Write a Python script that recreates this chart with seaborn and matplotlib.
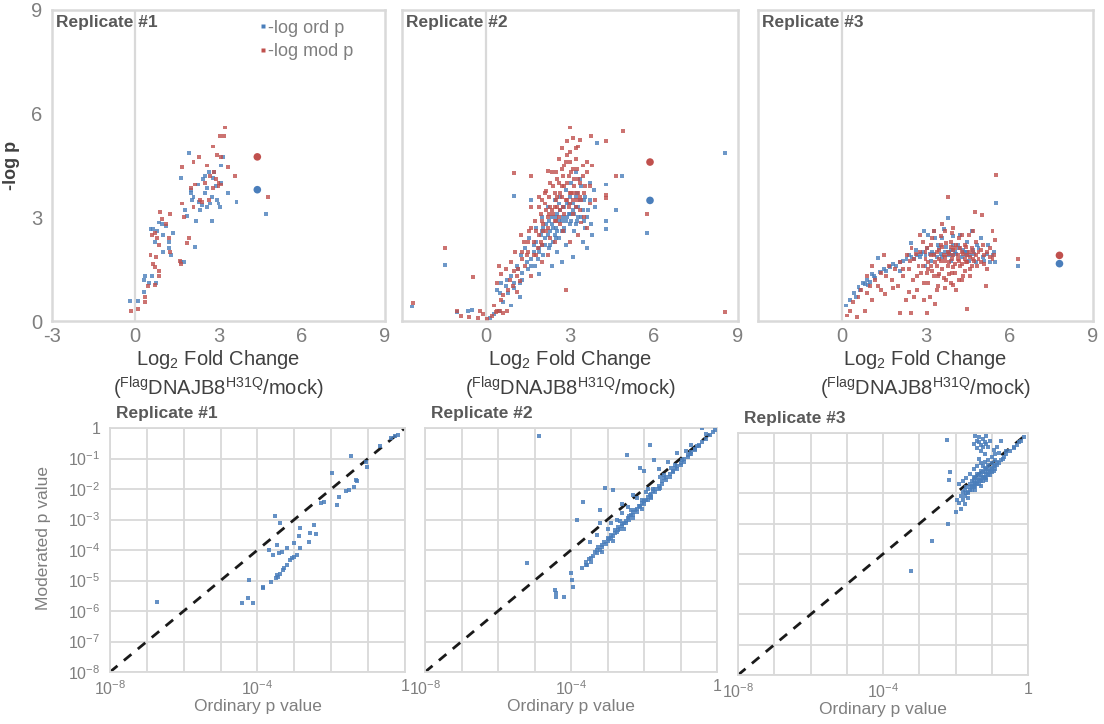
import numpy as np
import pandas as pd
import matplotlib
matplotlib.use("Agg")
import matplotlib.pyplot as plt
from matplotlib.lines import Line2D
from matplotlib.ticker import FixedLocator, NullLocator
import seaborn as sns

# ---------------- volcano-style panels: log2 fold change vs -log p ----------------
rep1_ord_fc = [-0.2, 0.1, 0.3, 0.35, 0.3, 0.5, 0.6, 0.75, 0.55, 0.65, 0.7, 0.8, 0.85, 0.95, 1.0, 1.1,
               1.2, 1.2, 1.3, 1.35, 1.0, 1.65, 1.75, 1.8, 1.85, 1.65, 1.95, 2.0, 2.05, 2.1, 2.15, 2.2,
               2.3, 2.35, 2.4, 2.45, 2.5, 2.6, 2.6, 2.7, 2.75, 2.75, 2.8, 2.9, 2.95, 3.0, 3.05, 3.1,
               3.1, 3.15, 3.35, 3.65, 4.7, 2.65, 2.85, 2.5, 2.25, 2.0]
rep1_ord_p = [0.58, 0.58, 0.85, 1.3, 1.2, 1.1, 1.3, 1.1, 2.65, 2.65, 2.3, 2.6, 2.85, 2.8, 2.5, 2.75,
              2.1, 2.3, 1.9, 2.55, 2.0, 1.7, 1.7, 3.2, 3.05, 4.15, 4.85, 3.8, 3.5, 3.6, 2.15, 2.9,
              3.45, 3.2, 3.35, 4.1, 4.2, 3.85, 3.3, 3.4, 3.6, 2.9, 4.15, 3.9, 3.5, 3.4, 3.3, 4.0,
              4.5, 4.75, 3.7, 3.45, 3.1, 4.3, 4.3, 3.7, 3.95, 3.7]
rep1_mod_fc = [-0.15, 0.1, 0.35, 0.35, 0.45, 0.55, 0.65, 0.7, 0.75, 0.7, 0.85, 0.85, 0.6, 0.7, 0.8, 0.9,
               0.95, 1.1, 1.25, 1.25, 1.2, 0.85, 1.6, 1.65, 1.7, 1.75, 1.7, 1.85, 1.95, 2.0, 2.1, 2.1,
               2.15, 2.3, 2.35, 2.5, 2.6, 2.65, 2.7, 2.8, 2.8, 2.9, 2.95, 3.0, 3.05, 3.1, 3.2, 3.25,
               3.0, 2.85, 3.6, 3.35, 4.8, 2.4, 3.1]
rep1_mod_p = [0.3, 0.35, 0.55, 0.7, 1.0, 1.9, 1.65, 1.55, 1.85, 1.05, 1.45, 1.3, 2.5, 2.55, 2.4, 3.15,
              2.95, 2.8, 3.1, 2.0, 2.4, 2.2, 1.75, 1.65, 3.4, 3.0, 4.45, 2.25, 2.4, 3.85, 4.6, 3.3,
              3.95, 4.75, 3.5, 4.0, 4.5, 3.5, 4.2, 5.05, 3.85, 4.1, 4.8, 4.0, 5.35, 4.75, 5.35, 5.6,
              3.9, 4.3, 4.2, 4.45, 3.6, 3.45, 3.95]

rep2_ord_fc = [-2.65, -1.45, -1.05, -0.65, -0.5, 0.3, 0.45, 0.6, 0.5, 0.4, 0.7, 0.75, 0.9, 0.55, 1.0,
               1.1, 1.2, 1.25, 1.3, 1.4, 1.5, 1.55, 1.6, 1.7, 1.75, 1.8, 1.9, 1.95, 2.0, 2.05, 2.1,
               2.15, 2.2, 2.25, 2.3, 2.35, 2.4, 2.45, 2.5, 2.55, 2.6, 2.65, 2.7, 2.75, 2.8, 2.85, 2.9,
               2.95, 3.0, 3.05, 3.1, 3.15, 3.2, 3.25, 3.3, 3.35, 3.4, 3.5, 3.55, 3.65, 3.7, 3.8, 3.85,
               3.2, 1.0, 1.6, 3.95, 4.3, 4.65, 4.3, 4.3, 4.85, 5.75, 8.55, 2.35, 2.7, 3.1, 1.9, 2.55,
               3.45, 0.15, 0.9, 1.2, 2.0, 2.85, 3.6,
               1.6, 1.7, 1.8, 1.9, 2.0, 2.1, 2.2, 2.25, 2.3, 2.4, 2.45, 2.5, 2.55, 2.6, 2.65, 2.7,
               2.75, 2.8, 2.85, 2.9, 2.95, 3.0, 3.05, 3.1, 3.15, 3.2, 3.25, 3.3, 3.35, 3.4, 3.45, 3.5,
               3.55, 3.6, 3.7, 3.75, 3.9, 1.3, 1.0, 0.8, 1.15, 1.45, 2.05, 2.5, 2.8, 3.0, 3.2, 2.35,
               2.6, 1.85]
rep2_ord_p = [0.42, 1.62, 0.25, 0.3, 0.32, 0.2, 0.3, 0.55, 0.8, 0.9, 1.0, 1.2, 1.3, 1.1, 0.95,
              1.6, 1.1, 1.9, 1.4, 2.1, 1.5, 2.4, 1.8, 2.2, 1.6, 2.7, 2.0, 2.5, 3.0, 1.9, 2.4,
              2.8, 3.3, 2.1, 2.6, 3.0, 2.3, 3.5, 2.7, 3.1, 2.4, 3.6, 2.9, 3.3, 2.6, 3.8, 3.0,
              3.4, 2.8, 4.0, 3.2, 2.6, 3.6, 2.9, 3.3, 4.1, 3.0, 3.5, 2.7, 3.2, 4.0, 2.5, 3.8,
              4.3, 3.63, 3.5, 5.15, 3.95, 3.2, 2.9, 2.65, 4.2, 2.55, 4.85, 1.6, 1.7, 1.85, 1.35, 2.0,
              2.3, 0.1, 0.45, 0.7, 2.2, 2.2, 2.1,
              1.6, 2.0, 2.3, 2.1, 2.6, 2.2, 2.5, 2.9, 2.2, 2.7, 2.5, 3.0, 2.6, 2.9, 3.2, 2.6,
              3.0, 3.3, 2.9, 3.4, 3.1, 3.6, 2.9, 3.4, 3.1, 3.3, 3.7, 3.0, 3.5, 3.9, 3.2, 2.9,
              3.6, 3.0, 3.5, 2.8, 3.3, 1.2, 1.1, 0.8, 1.5, 1.7, 2.7, 2.4, 2.7, 3.1, 2.8, 2.8,
              3.4, 1.8]
rep2_mod_fc = [-0.9, -0.6, -0.3, -0.2, -0.1, 0.05, 0.2, 0.35, 0.5, 0.6, 0.75, 0.3, 0.55, 0.4, 0.55,
               0.45, 0.7, 0.85, 0.9, 1.0, 1.05, 1.15, 1.2, 1.3, 1.35, 1.4, 1.5, 1.55, 1.6, 1.7, 1.75,
               1.8, 1.9, 1.95, 2.0, 2.05, 2.1, 2.15, 2.2, 2.25, 2.3, 2.35, 2.4, 2.45, 2.5, 2.55, 2.6,
               2.65, 2.7, 2.75, 2.8, 2.85, 2.9, 2.95, 3.0, 3.05, 3.1, 3.15, 3.2, 3.25, 3.3, 3.35, 3.45,
               3.5, 3.6, 3.7, 2.9, 2.7, 3.1, 3.3, 3.75, 4.3, 4.9, 3.35, 3.0, 4.65, 4.3, 4.3, 5.75,
               8.55, 2.85, 1.0, 1.6, 2.2, 2.15, -2.6, -1.45, -0.45, -1.05, 1.9, 2.3, 2.6, 3.4, 3.9,
               3.5, 3.8, 3.6, 2.0, 1.25, 0.8, 1.1, 1.6, 2.45, 3.0, 3.3, 2.75, 2.2,
               1.8, 1.9, 2.0, 2.1, 2.2, 2.3, 2.35, 2.4, 2.45, 2.5, 2.55, 2.6, 2.65, 2.7, 2.75, 2.8,
               2.85, 2.9, 2.95, 3.0, 3.05, 3.1, 3.15, 3.2, 3.25, 3.3, 3.35, 3.4, 3.45, 3.55, 3.6, 3.7,
               1.5, 1.6, 1.7, 1.3, 1.1, 0.95, 0.6, 0.4, 2.0, 2.5, 2.8, 3.0, 3.2, 2.9, 2.45, 2.65,
               1.95, 2.15, 3.1, 3.35, 2.7, 3.0, 3.15, 2.55, 2.25, 2.05, 1.85, 1.45]
rep2_mod_p = [0.15, 0.12, 0.1, 0.28, 0.2, 0.05, 0.15, 0.25, 0.28, 0.22, 0.3, 0.45, 0.6, 1.1, 1.35,
              1.6, 1.5, 1.2, 1.7, 1.45, 2.0, 1.5, 1.15, 1.8, 2.3, 1.6, 2.0, 2.6, 1.3, 2.3, 2.9,
              1.9, 2.5, 3.1, 2.2, 2.8, 3.4, 2.6, 3.0, 3.6, 2.4, 3.2, 3.9, 2.9, 3.5, 4.1, 3.0,
              3.7, 4.4, 3.3, 3.9, 4.6, 3.5, 4.2, 4.9, 3.7, 4.4, 3.9, 4.7, 3.5, 4.1, 3.2, 4.5,
              3.7, 4.3, 3.9, 5.2, 5.0, 5.3, 5.05, 5.35, 5.2, 5.5, 5.25, 5.6, 4.2, 3.55, 3.65, 3.1,
              0.26, 0.9, 4.27, 4.2, 4.35, 3.75, 0.52, 2.1, 1.28, 0.3, 3.6, 4.0, 4.7, 2.85, 3.5,
              3.0, 4.5, 2.7, 1.7, 2.5, 0.9, 0.85, 3.3, 2.3, 2.3, 2.5, 2.6, 1.9,
              2.6, 3.3, 2.9, 3.7, 2.7, 3.3, 4.3, 3.1, 3.7, 2.9, 3.3, 4.0, 3.2, 3.6, 4.2, 3.1,
              3.5, 4.0, 3.3, 3.7, 4.3, 3.5, 4.1, 3.3, 4.4, 3.7, 4.0, 3.5, 4.2, 3.9, 4.6, 3.4,
              2.3, 2.7, 1.9, 2.0, 1.3, 1.0, 0.75, 0.3, 3.5, 4.3, 4.5, 4.6, 5.0, 4.8, 3.3, 2.8,
              2.3, 3.2, 3.1, 3.6, 3.9, 3.4, 3.7, 3.6, 3.1, 2.6, 2.1, 1.9]

rep3_ord_fc = [0.15, 0.3, 0.45, 0.6, 0.75, 0.83, 0.9, 1.01, 1.15, 1.29, 1.37, 1.5, 1.6, 1.73, 1.85,
               1.95, 2.09, 2.2, 2.32, 2.48, 2.5, 2.6, 2.7, 2.8, 2.9, 3.0, 3.1, 3.15, 3.25, 3.3, 3.4,
               3.5, 3.55, 3.6, 3.7, 3.8, 3.81, 3.9, 4.0, 4.1, 4.2, 4.3, 4.4, 4.5, 4.6, 4.7, 4.8,
               4.9, 5.0, 5.1, 5.2, 5.3, 5.45, 5.5, 5.52, 6.32, 2.95, 3.65, 4.25, 4.65, 3.2, 3.9, 4.55,
               2.1, 3.0,
               3.3, 3.45, 3.6, 3.75, 3.85, 3.95, 4.05, 4.15, 4.35, 4.45, 4.75, 4.85, 5.05, 5.25, 5.4,
               2.85, 2.65, 2.4, 3.05, 3.35, 4.0, 4.5, 1.2, 1.1, 0.95, 0.65, 0.5]
rep3_ord_p = [0.45, 0.6, 0.8, 0.98, 1.1, 1.08, 1.2, 1.13, 1.3, 1.82, 1.42, 1.5, 1.45, 1.56, 1.65,
              1.6, 1.7, 1.75, 1.8, 2.27, 1.85, 1.8, 1.9, 1.85, 2.0, 1.9, 2.5, 1.95, 2.0, 2.6, 1.85,
              2.1, 1.95, 2.4, 2.0, 1.9, 2.99, 2.05, 2.2, 1.95, 2.1, 1.85, 2.0, 2.3, 1.9, 2.05, 1.7,
              2.1, 2.4, 1.75, 1.95, 1.7, 2.0, 1.7, 3.42, 1.59, 2.6, 2.65, 2.5, 2.6, 1.75, 1.75, 1.75,
              1.45, 1.6,
              1.95, 2.2, 1.85, 2.15, 2.0, 1.9, 2.0, 2.2, 2.05, 1.9, 1.95, 2.2, 1.85, 2.2, 1.9,
              1.95, 2.05, 1.9, 2.1, 2.4, 2.45, 2.0, 1.25, 1.35, 1.05, 0.9, 0.7]
rep3_mod_fc = [0.18, 0.3, 0.54, 0.83, 0.4, 0.6, 0.7, 0.9, 1.0, 1.1, 1.2, 1.3, 1.4, 1.55, 1.6,
               1.7, 1.8, 1.9, 2.0, 2.09, 2.1, 2.2, 2.3, 2.35, 2.4, 2.47, 2.5, 2.55, 2.6, 2.7, 2.75,
               2.8, 2.85, 2.9, 2.95, 3.0, 3.04, 3.05, 3.1, 3.15, 3.2, 3.25, 3.3, 3.34, 3.35, 3.4, 3.45,
               3.5, 3.55, 3.6, 3.65, 3.7, 3.75, 3.8, 3.81, 3.85, 3.9, 3.95, 4.0, 4.05, 4.1, 4.15, 4.2,
               4.25, 4.3, 4.35, 4.4, 4.45, 4.5, 4.5, 4.55, 4.6, 4.65, 4.7, 4.77, 4.8, 4.85, 4.9, 5.0,
               5.03, 5.05, 5.1, 5.18, 5.2, 5.3, 5.4, 5.5, 5.52, 6.32, 3.6, 3.3, 4.0, 2.8, 4.7, 3.9,
               3.1, 2.6, 4.3, 3.5, 4.0, 3.7, 4.4, 3.2, 5.4, 1.1, 1.5, 0.9,
               3.0, 3.1, 3.2, 3.3, 3.4, 3.5, 3.55, 3.6, 3.7, 3.75, 3.8, 3.85, 3.9, 3.95, 4.0, 4.05,
               4.1, 4.15, 4.2, 4.25, 4.3, 4.35, 4.4, 4.45, 4.5, 4.55, 4.6, 4.65, 4.7, 4.75, 4.8, 4.9,
               5.0, 5.1, 5.2, 5.3, 5.45, 3.25, 3.45, 3.65, 3.85, 4.05, 4.2, 2.7, 2.9, 3.05, 2.65, 2.45,
               2.2, 3.4, 3.7, 4.0, 2.95, 2.4, 1.85, 1.4, 4.6, 3.55, 4.3, 3.95]
rep3_mod_p = [0.16, 0.3, 0.12, 0.29, 0.55, 0.7, 0.9, 0.8, 1.0, 0.6, 1.2, 1.0, 1.4, 0.79, 1.3,
              1.6, 1.2, 1.5, 1.0, 0.23, 1.7, 1.3, 0.6, 1.9, 1.5, 0.23, 2.1, 1.2, 1.8, 0.9, 1.6,
              2.0, 1.4, 2.3, 1.1, 1.8, 0.23, 2.1, 1.5, 0.7, 1.9, 2.4, 1.3, 0.48, 1.7, 2.0, 1.0,
              1.8, 2.2, 1.5, 1.9, 2.6, 1.2, 2.0, 3.59, 1.7, 2.3, 1.4, 1.9, 2.1, 0.9, 1.8, 2.4,
              1.6, 2.0, 1.3, 2.2, 1.7, 0.36, 1.9, 2.5, 1.5, 2.1, 1.8, 3.16, 2.3, 1.6, 2.0, 1.7,
              3.06, 2.2, 1.9, 1.0, 1.5, 2.1, 1.8, 2.35, 4.22, 1.8, 2.8, 2.6, 2.7, 2.5, 2.6, 1.1,
              1.1, 0.7, 1.2, 1.35, 1.55, 1.75, 1.45, 1.6, 2.6, 1.6, 1.9, 1.3,
              2.0, 1.7, 2.2, 1.9, 1.6, 2.05, 1.75, 2.15, 1.85, 2.25, 1.6, 1.95, 2.15, 1.8, 2.05, 1.65,
              2.2, 1.9, 1.75, 2.1, 1.65, 1.95, 1.8, 2.15, 1.7, 2.0, 1.85, 1.6, 2.0, 1.75, 1.9, 1.8,
              2.05, 1.65, 2.0, 1.85, 1.9, 1.45, 1.3, 1.25, 1.35, 1.4, 1.2, 1.3, 1.6, 1.4, 1.95, 1.75,
              1.5, 0.9, 0.95, 1.05, 0.6, 0.85, 0.95, 0.9, 1.3, 2.45, 2.5, 2.55]

# highlighted protein in each replicate (larger markers)
hl_fc = [4.4, 5.86, 7.8]
hl_ord_p = [3.8, 3.49, 1.66]
hl_mod_p = [4.75, 4.6, 1.9]

replicates = ["Replicate #1", "Replicate #2", "Replicate #3"]
series_names = ["-log ord p", "-log mod p"]
fc_ticks = [-3, 0, 3, 6, 9]
p_ticks = [0, 3, 6, 9]

# ---------------- ordinary vs moderated p values (log10) ----------------
cmp1_ord = [-6.72, -4.43, -4.25, -4.13, -4.22, -3.86, -3.84, -3.64, -3.5, -3.48, -3.45, -3.39, -3.31,
            -3.27, -3.2, -3.11, -3.06, -3.02, -2.93, -2.84, -2.61, -2.58, -2.47, -2.42, -2.84, -2.86,
            -3.02, -3.2, -3.34, -3.57, -3.7, -3.48, -3.42, -3.52, -3.38, -2.29, -2.2, -1.97, -1.8,
            -1.83, -1.6, -1.51, -1.39, -1.33, -1.3, -1.46, -1.05, -1.02, -0.69, -0.37, -0.28, -0.18]
cmp1_mod = [-5.72, -5.75, -5.56, -5.75, -4.99, -5.21, -5.25, -5.06, -4.93, -4.82, -4.88, -4.77, -4.66,
            -4.6, -4.49, -4.33, -4.27, -4.22, -4.16, -3.95, -3.73, -3.45, -3.18, -3.48, -3.29, -3.55,
            -3.78, -3.95, -4.05, -4.16, -4.0, -3.84, -4.1, -2.9, -3.12, -2.47, -2.41, -1.48, -2.25,
            -2.52, -2.08, -2.03, -1.92, -1.7, -1.73, -0.93, -1.1, -1.28, -0.6, -0.33, -0.27, -0.22]

cmp2_ord = [-4.89, -5.21, -4.44, -4.42, -4.18, -4.4, -3.98, -3.95, -4.0, -3.68, -3.84, -3.48, -3.06,
            -2.84, -3.2, -3.2, -2.47, -1.83, -1.74, -1.1, -0.41, -2.1, -2.0, -2.3, -2.6,
            -3.7, -3.6, -3.55, -3.5, -3.4, -3.35, -3.3, -3.25, -3.2, -3.15, -3.1, -3.05, -3.0, -2.95,
            -2.9, -2.85, -2.8, -2.75, -2.7, -2.65, -2.6, -2.55, -2.5, -2.45, -2.4, -2.35, -2.3, -2.25,
            -2.2, -2.15, -2.1, -2.05, -2.0, -1.95, -1.9, -1.85, -1.8, -1.75, -1.7, -1.6, -1.5, -1.4,
            -1.3, -1.2, -1.1, -1.0, -0.9, -0.8, -0.7, -0.6, -0.5, -0.4, -0.3, -0.2, -0.1, -0.05,
            -3.3, -2.9, -2.6, -2.2, -1.9, -1.55, -1.25, -1.6, -1.35, -0.85, -0.7, -0.3, -3.45, -3.15,
            -2.85, -2.55, -2.3, -2.05, -1.8, -1.55, -2.45, -2.75, -3.0, -1.95, -1.45, -1.15, -0.75, -0.55,
            -3.6, -3.45, -3.3, -3.15, -3.0, -2.9, -2.8, -2.7, -2.6, -2.5, -2.4, -2.3, -2.2, -2.1,
            -2.0, -1.9, -1.8, -1.7, -1.6, -1.5, -1.4, -1.3, -1.2, -1.1, -1.0, -0.9, -0.8, -0.7,
            -0.6, -0.5, -2.65, -2.35, -2.05, -1.75, -1.45, -1.15, -0.95]
cmp2_mod = [-0.27, -4.41, -5.32, -5.4, -5.53, -5.55, -4.99, -5.21, -4.75, -2.41, -3.01, -3.73, -1.97,
            -2.03, -2.68, -3.12, -0.88, -0.55, -1.04, -0.82, 0.0, -1.32, -1.4, -2.2, -2.5,
            -4.6, -4.4, -4.5, -4.3, -4.2, -4.05, -4.1, -3.9, -4.0, -3.85, -3.75, -3.8, -3.6, -3.65,
            -3.5, -3.55, -3.35, -3.4, -3.25, -3.3, -3.15, -3.1, -3.05, -2.95, -2.9, -2.85, -2.75, -2.7,
            -2.65, -2.55, -2.55, -2.45, -2.4, -2.35, -2.25, -2.2, -2.15, -2.05, -2.0, -1.9, -1.75, -1.6,
            -1.5, -1.4, -1.25, -1.15, -1.0, -0.9, -0.8, -0.7, -0.55, -0.45, -0.35, -0.22, -0.12, -0.05,
            -3.5, -3.1, -2.8, -2.3, -2.0, -1.6, -1.3, -1.35, -1.1, -0.75, -0.55, -0.2, -4.4, -4.05,
            -3.7, -3.3, -2.95, -2.65, -2.3, -1.95, -2.6, -3.0, -3.3, -2.1, -1.55, -1.2, -0.85, -0.6,
            -4.5, -4.25, -4.0, -3.9, -3.7, -3.6, -3.45, -3.35, -3.2, -3.1, -3.0, -2.85, -2.75, -2.6,
            -2.5, -2.35, -2.25, -2.1, -2.0, -1.85, -1.7, -1.6, -1.45, -1.35, -1.2, -1.1, -0.95, -0.85,
            -0.72, -0.6, -3.05, -2.7, -2.35, -2.0, -1.65, -1.3, -1.05]

cmp3_ord = [-2.24, -3.24, -2.66, -2.2, -2.17, -2.14, -2.0, -1.95,
            -1.45, -1.4, -1.35, -1.3, -1.25, -1.2, -1.15, -1.1, -1.05, -1.3, -1.4, -1.2, -1.5, -0.75,
            -0.95, -0.85,
            -1.9, -1.85, -1.8, -1.75, -1.7, -1.7, -1.65, -1.6, -1.6, -1.55, -1.55, -1.5, -1.5, -1.45,
            -1.45, -1.4, -1.4, -1.35, -1.35, -1.3, -1.3, -1.25, -1.25, -1.2, -1.2, -1.15, -1.15, -1.1,
            -1.1, -1.05, -1.0, -1.0, -0.95, -0.9, -0.9, -0.85, -0.8, -0.75, -0.7, -0.65, -0.6, -0.5,
            -0.4, -0.3, -0.2, -0.1, -1.5, -1.4, -1.3, -1.6, -1.7, -1.8, -1.2, -1.1, -1.0, -0.9, -0.8,
            -1.85, -1.75, -1.65, -1.9, -1.35, -1.25, -1.45, -1.3, -1.15,
            -1.6, -1.5, -1.45, -1.4, -1.35, -1.3, -1.25, -1.2, -1.15, -1.1, -1.05, -1.0, -0.95, -1.55,
            -1.65, -1.5, -1.4, -1.3, -1.2, -1.1, -1.0, -0.9, -0.85, -1.75, -1.8, -1.25, -1.15, -1.35,
            -0.6, -0.4, -0.25]
cmp3_mod = [-0.22, -4.56, -3.56, -3.0, -1.56, -1.28, -2.6, -2.2,
            -0.1, -0.25, -0.15, -0.4, -0.2, -0.3, -0.1, -0.45, -0.25, -0.6, -0.5, -0.7, -0.35, -0.28,
            -0.55, -0.45,
            -2.3, -2.1, -2.2, -1.9, -2.0, -1.8, -1.95, -1.7, -1.9, -1.75, -1.6, -1.8, -1.55, -1.65,
            -1.5, -1.7, -1.45, -1.55, -1.35, -1.6, -1.4, -1.45, -1.3, -1.5, -1.3, -1.35, -1.2, -1.4,
            -1.2, -1.25, -1.15, -1.3, -1.1, -1.05, -1.2, -0.95, -1.0, -0.9, -0.85, -0.8, -0.7, -0.6,
            -0.5, -0.4, -0.25, -0.12, -1.2, -1.1, -1.0, -1.35, -1.5, -1.6, -0.95, -0.9, -0.8, -0.7, -0.65,
            -2.5, -2.35, -2.15, -1.7, -0.85, -1.1, -1.9, -1.75, -1.55,
            -1.8, -1.7, -1.75, -1.6, -1.7, -1.5, -1.6, -1.45, -1.5, -1.3, -1.4, -1.2, -1.25, -1.9,
            -2.0, -1.45, -1.35, -1.25, -1.15, -1.05, -1.0, -0.9, -1.05, -2.1, -1.95, -0.45, -0.35, -0.3,
            -0.6, -0.45, -0.3]

diag = [1e-8, 1.0]
decades = [1e-8, 1e-7, 1e-6, 1e-5, 1e-4, 1e-3, 1e-2, 1e-1, 1.0]
y_dec_labels = ["$10^{-8}$", "$10^{-7}$", "$10^{-6}$", "$10^{-5}$", "$10^{-4}$",
                "$10^{-3}$", "$10^{-2}$", "$10^{-1}$", "1"]
x_dec_labels = ["$10^{-8}$", "", "", "", "$10^{-4}$", "", "", "", "1"]

# ---------------- style ----------------
sns.set_theme(style="white")
plt.rcParams["font.family"] = ["Liberation Sans", "DejaVu Sans"]
plt.rcParams["mathtext.default"] = "regular"

BLUE = "#4a7ebb"
RED = "#c0504d"
FRAME = "#d9d9d9"
TICK_C = "#7f7f7f"
TITLE_C = "#595959"

fig = plt.figure(figsize=(11.04, 7.24), dpi=100)

top_pos = [[0.0471, 0.5566, 0.3016, 0.4296],
           [0.3641, 0.5566, 0.3043, 0.4296],
           [0.6866, 0.5566, 0.3034, 0.4296]]
bot_pos = [[0.0996, 0.0718, 0.2672, 0.3370],
           [0.3850, 0.0718, 0.2645, 0.3370],
           [0.6685, 0.0677, 0.2627, 0.3343]]

volcano = [
    (rep1_ord_fc, rep1_ord_p, rep1_mod_fc, rep1_mod_p),
    (rep2_ord_fc, rep2_ord_p, rep2_mod_fc, rep2_mod_p),
    (rep3_ord_fc, rep3_ord_p, rep3_mod_fc, rep3_mod_p),
]

for i, (ofc, op, mfc, mp) in enumerate(volcano):
    ax = fig.add_axes(top_pos[i])
    df = pd.concat([
        pd.DataFrame({"fc": ofc, "p": op, "series": series_names[0]}),
        pd.DataFrame({"fc": mfc, "p": mp, "series": series_names[1]}),
    ], ignore_index=True)
    ax.axvline(0, color=FRAME, lw=1.6, zorder=0)
    sns.scatterplot(data=df, x="fc", y="p", hue="series",
                    palette={series_names[0]: BLUE, series_names[1]: RED},
                    marker="s", s=8, linewidth=0, alpha=0.8, legend=False, ax=ax)
    hl = pd.DataFrame({"fc": [hl_fc[i], hl_fc[i]], "p": [hl_ord_p[i], hl_mod_p[i]],
                       "series": series_names})
    sns.scatterplot(data=hl, x="fc", y="p", hue="series",
                    palette={series_names[0]: BLUE, series_names[1]: RED},
                    marker="o", s=30, linewidth=0, legend=False, ax=ax)
    ax.set_xlim(-3, 9)
    ax.set_ylim(0, 9)
    ax.set_xticks(fc_ticks)
    ax.set_yticks(p_ticks)
    if i == 0:
        ax.set_xticklabels([str(t) for t in fc_ticks])
        ax.set_yticklabels([str(t) for t in p_ticks])
        ax.set_ylabel("-log p", fontsize=13, fontweight="bold", color="#404040")
        ax.yaxis.set_label_coords(-0.095, 0.5)
    else:
        ax.set_xticklabels([""] + [str(t) for t in fc_ticks[1:]])
        ax.set_yticklabels([])
        ax.set_ylabel("")
    ax.set_xlabel("Log$_2$ Fold Change\n($^{Flag}$DNAJB8$^{H31Q}$/mock)",
                  fontsize=14.5, color="#404040", linespacing=1.15, labelpad=2)
    ax.tick_params(axis="x", length=0, labelsize=14.5, labelcolor=TICK_C, pad=4)
    ax.tick_params(axis="y", length=0, labelsize=14.5, labelcolor=TICK_C, pad=7)
    for sp in ax.spines.values():
        sp.set_color(FRAME)
        sp.set_linewidth(1.8)
    ax.text(0.012, 0.985, replicates[i], transform=ax.transAxes, ha="left", va="top",
            fontsize=12.5, fontweight="bold", color=TITLE_C)
    if i == 0:
        handles = [Line2D([], [], ls="none", marker="s", ms=2.6, mfc=BLUE, mec="none"),
                   Line2D([], [], ls="none", marker="s", ms=2.6, mfc=RED, mec="none")]
        ax.legend(handles, series_names, loc="upper left", bbox_to_anchor=(0.585, 1.01),
                  frameon=False, fontsize=13, handlelength=0.4, handletextpad=0.1,
                  labelspacing=0.35, borderpad=0.2, labelcolor=TICK_C)

comparisons = [(cmp1_ord, cmp1_mod), (cmp2_ord, cmp2_mod), (cmp3_ord, cmp3_mod)]

for i, (lo, lm) in enumerate(comparisons):
    ax = fig.add_axes(bot_pos[i])
    ax.set_xscale("log")
    ax.set_yscale("log")
    ax.set_xlim(1e-8, 1)
    ax.set_ylim(1e-8, 1)
    ax.xaxis.set_major_locator(FixedLocator(decades))
    ax.yaxis.set_major_locator(FixedLocator(decades))
    ax.xaxis.set_minor_locator(NullLocator())
    ax.yaxis.set_minor_locator(NullLocator())
    ax.set_xticklabels(x_dec_labels)
    ax.grid(True, color=FRAME, lw=1.3, zorder=0)
    ax.set_axisbelow(True)
    df = pd.DataFrame({"ordinary": np.power(10.0, lo), "moderated": np.power(10.0, lm)})
    sns.lineplot(x=diag, y=diag, color="#1a1a1a", lw=2.0, dashes=False, ax=ax,
                 linestyle=(0, (3.5, 3)), zorder=2)
    sns.scatterplot(data=df, x="ordinary", y="moderated", color=BLUE, marker="s",
                    s=6, linewidth=0, alpha=0.85, ax=ax, zorder=3)
    if i == 0:
        ax.set_yticklabels(y_dec_labels)
        ax.set_ylabel("Moderated p value", fontsize=12.5, color=TICK_C)
        ax.yaxis.set_label_coords(-0.2, 0.55)
    else:
        ax.set_yticklabels([])
        ax.set_ylabel("")
    ax.set_xlabel("Ordinary p value", fontsize=12.5, color=TICK_C, labelpad=1)
    ax.tick_params(axis="x", length=0, labelsize=11.5, labelcolor=TICK_C, pad=5)
    ax.tick_params(axis="y", length=0, labelsize=11.5, labelcolor=TICK_C, pad=7)
    for sp in ax.spines.values():
        sp.set_color(FRAME)
        sp.set_linewidth(1.3)
    ax.text(0.02, 1.03, replicates[i], transform=ax.transAxes, ha="left", va="bottom",
            fontsize=12.5, fontweight="bold", color=TITLE_C)

fig.savefig("out.png", dpi=100)
